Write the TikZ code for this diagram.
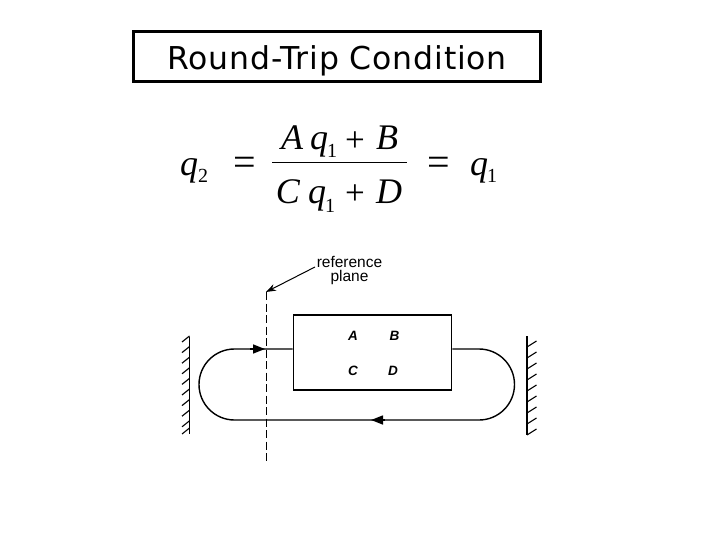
\documentclass[tikz,border=0pt]{standalone}
\usepackage{fontspec}
\setmainfont{Liberation Serif}
\setsansfont{Liberation Sans}
\newfontfamily\titlefont[LetterSpace=2.6]{DejaVu Sans}
\usetikzlibrary{arrows.meta}
\tikzset{
  titlebox/.style={draw=black,line width=3pt,minimum width=407pt,minimum height=50pt,inner sep=0pt,font=\titlefont\fontsize{31.5}{34}\selectfont},
  eq/.style={inner sep=0pt,anchor=base,font=\fontsize{36}{38}\selectfont\itshape},
  eqr/.style={inner sep=0pt,anchor=base,font=\fontsize{35}{38}\selectfont},
  eqrel/.style={inner sep=0pt,anchor=base,font=\fontsize{40}{42}\selectfont},
  eqsub/.style={inner sep=0pt,anchor=base,font=\fontsize{20}{22}\selectfont},
  lbl/.style={inner sep=0pt,anchor=base,font=\sffamily\fontsize{15.5}{17}\selectfont},
  ent/.style={inner sep=0pt,anchor=center,font=\sffamily\bfseries\itshape\fontsize{13.5}{15}\selectfont},
  sysbox/.style={draw=black,line width=1.8pt,minimum width=158pt,minimum height=75pt,inner sep=0pt},
  beam/.style={line width=1.4pt},
  mirror/.style={line width=1.5pt},
  hatch/.style={line width=1.1pt},
  tip/.style={line width=1.4pt,-{Triangle[length=12pt,width=9pt]}},
  ptr/.style={line width=1pt,-{Stealth[length=10pt,width=7pt]}},
  refline/.style={line width=0.9pt,dash pattern=on 8pt off 3.5pt}
}
\begin{document}
\begin{tikzpicture}[x=1pt,y=-1pt]
\useasboundingbox (0,0) rectangle (720,540);
\fill[white] (0,0) rectangle (720,540);
\node[titlebox] (title) at (337,56.5) {\raisebox{-13.5pt}[0pt][0pt]{Round-Trip Condition}};
% equation
\node[eq] (q2) at (189,176) {q};
\node[eqsub] (q2s) at (203,183) {2};
\node[eqrel] (eq1) at (245,176) {=};
\node[eq] (nA) at (292,150) {A};
\node[eq] (nq) at (319,150) {q};
\node[eqsub] (nqs) at (332,158) {1};
\node[eqr] (npl) at (355,152) {+};
\node[eq] (nB) at (387,150) {B};
\coordinate (fl) at (272,163);
\coordinate (fr) at (407,163);
\draw[line width=1pt] (fl) -- (fr);
\node[eq] (dC) at (288,204) {C};
\node[eq] (dq) at (317,204) {q};
\node[eqsub] (dqs) at (330,213) {1};
\node[eqr] (dpl) at (355,205) {+};
\node[eq] (dD) at (389,204) {D};
\node[eqrel] (eq2) at (439,176) {=};
\node[eq] (q1) at (479,176) {q};
\node[eqsub] (q1s) at (492,183) {1};
% diagram
\node[lbl] (ref1) at (349.5,267) {reference};
\node[lbl] (ref2) at (349.5,281) {plane};
\node[sysbox] (sys) at (372.5,352.5) {};
\node[ent] (A) at (353,336) {A};
\node[ent] (B) at (394.5,336) {B};
\node[ent] (C) at (353,371) {C};
\node[ent] (D) at (393,371) {D};
\coordinate (rt) at (266,292);
\coordinate (rb) at (266,462);
\draw[refline] (rt) -- (rb);
\coordinate (ptrs) at (315,267);
\draw[ptr] (ptrs) -- (rt);
\coordinate (lt) at (234.5,349);
\coordinate (lb) at (234.5,420);
\coordinate (rrt) at (479,349);
\coordinate (rrb) at (479,420);
\coordinate (a1) at (250,349);
\coordinate (a1t) at (265,349);
\coordinate (a2) at (385,420);
\coordinate (a2t) at (371,420);
\draw[beam] (sys.west |- lt) -- (lt) arc[start angle=270,end angle=90,radius=35.5] -- (rrb)
  arc[start angle=90,end angle=-90,radius=35.5] -- (sys.east |- rrt);
\draw[tip] (a1) -- (a1t);
\draw[tip] (a2) -- (a2t);
\coordinate (ml1) at (189.5,337);
\coordinate (ml2) at (189.5,434);
\draw[mirror] (ml1) -- (ml2);
\foreach \y in {342,352.6,363.2,373.8,384.4,395,405.6,416.2,426.8,434}
  \draw[hatch] (189.5,\y-6) -- (182,\y);
\coordinate (mr1) at (527,336);
\coordinate (mr2) at (527,435);
\draw[mirror] (mr1) -- (mr2);
\foreach \y in {347,358,369,380,391,402,413,424,435}
  \draw[hatch] (527,\y) -- (536.5,\y-6);
\end{tikzpicture}
\end{document}
